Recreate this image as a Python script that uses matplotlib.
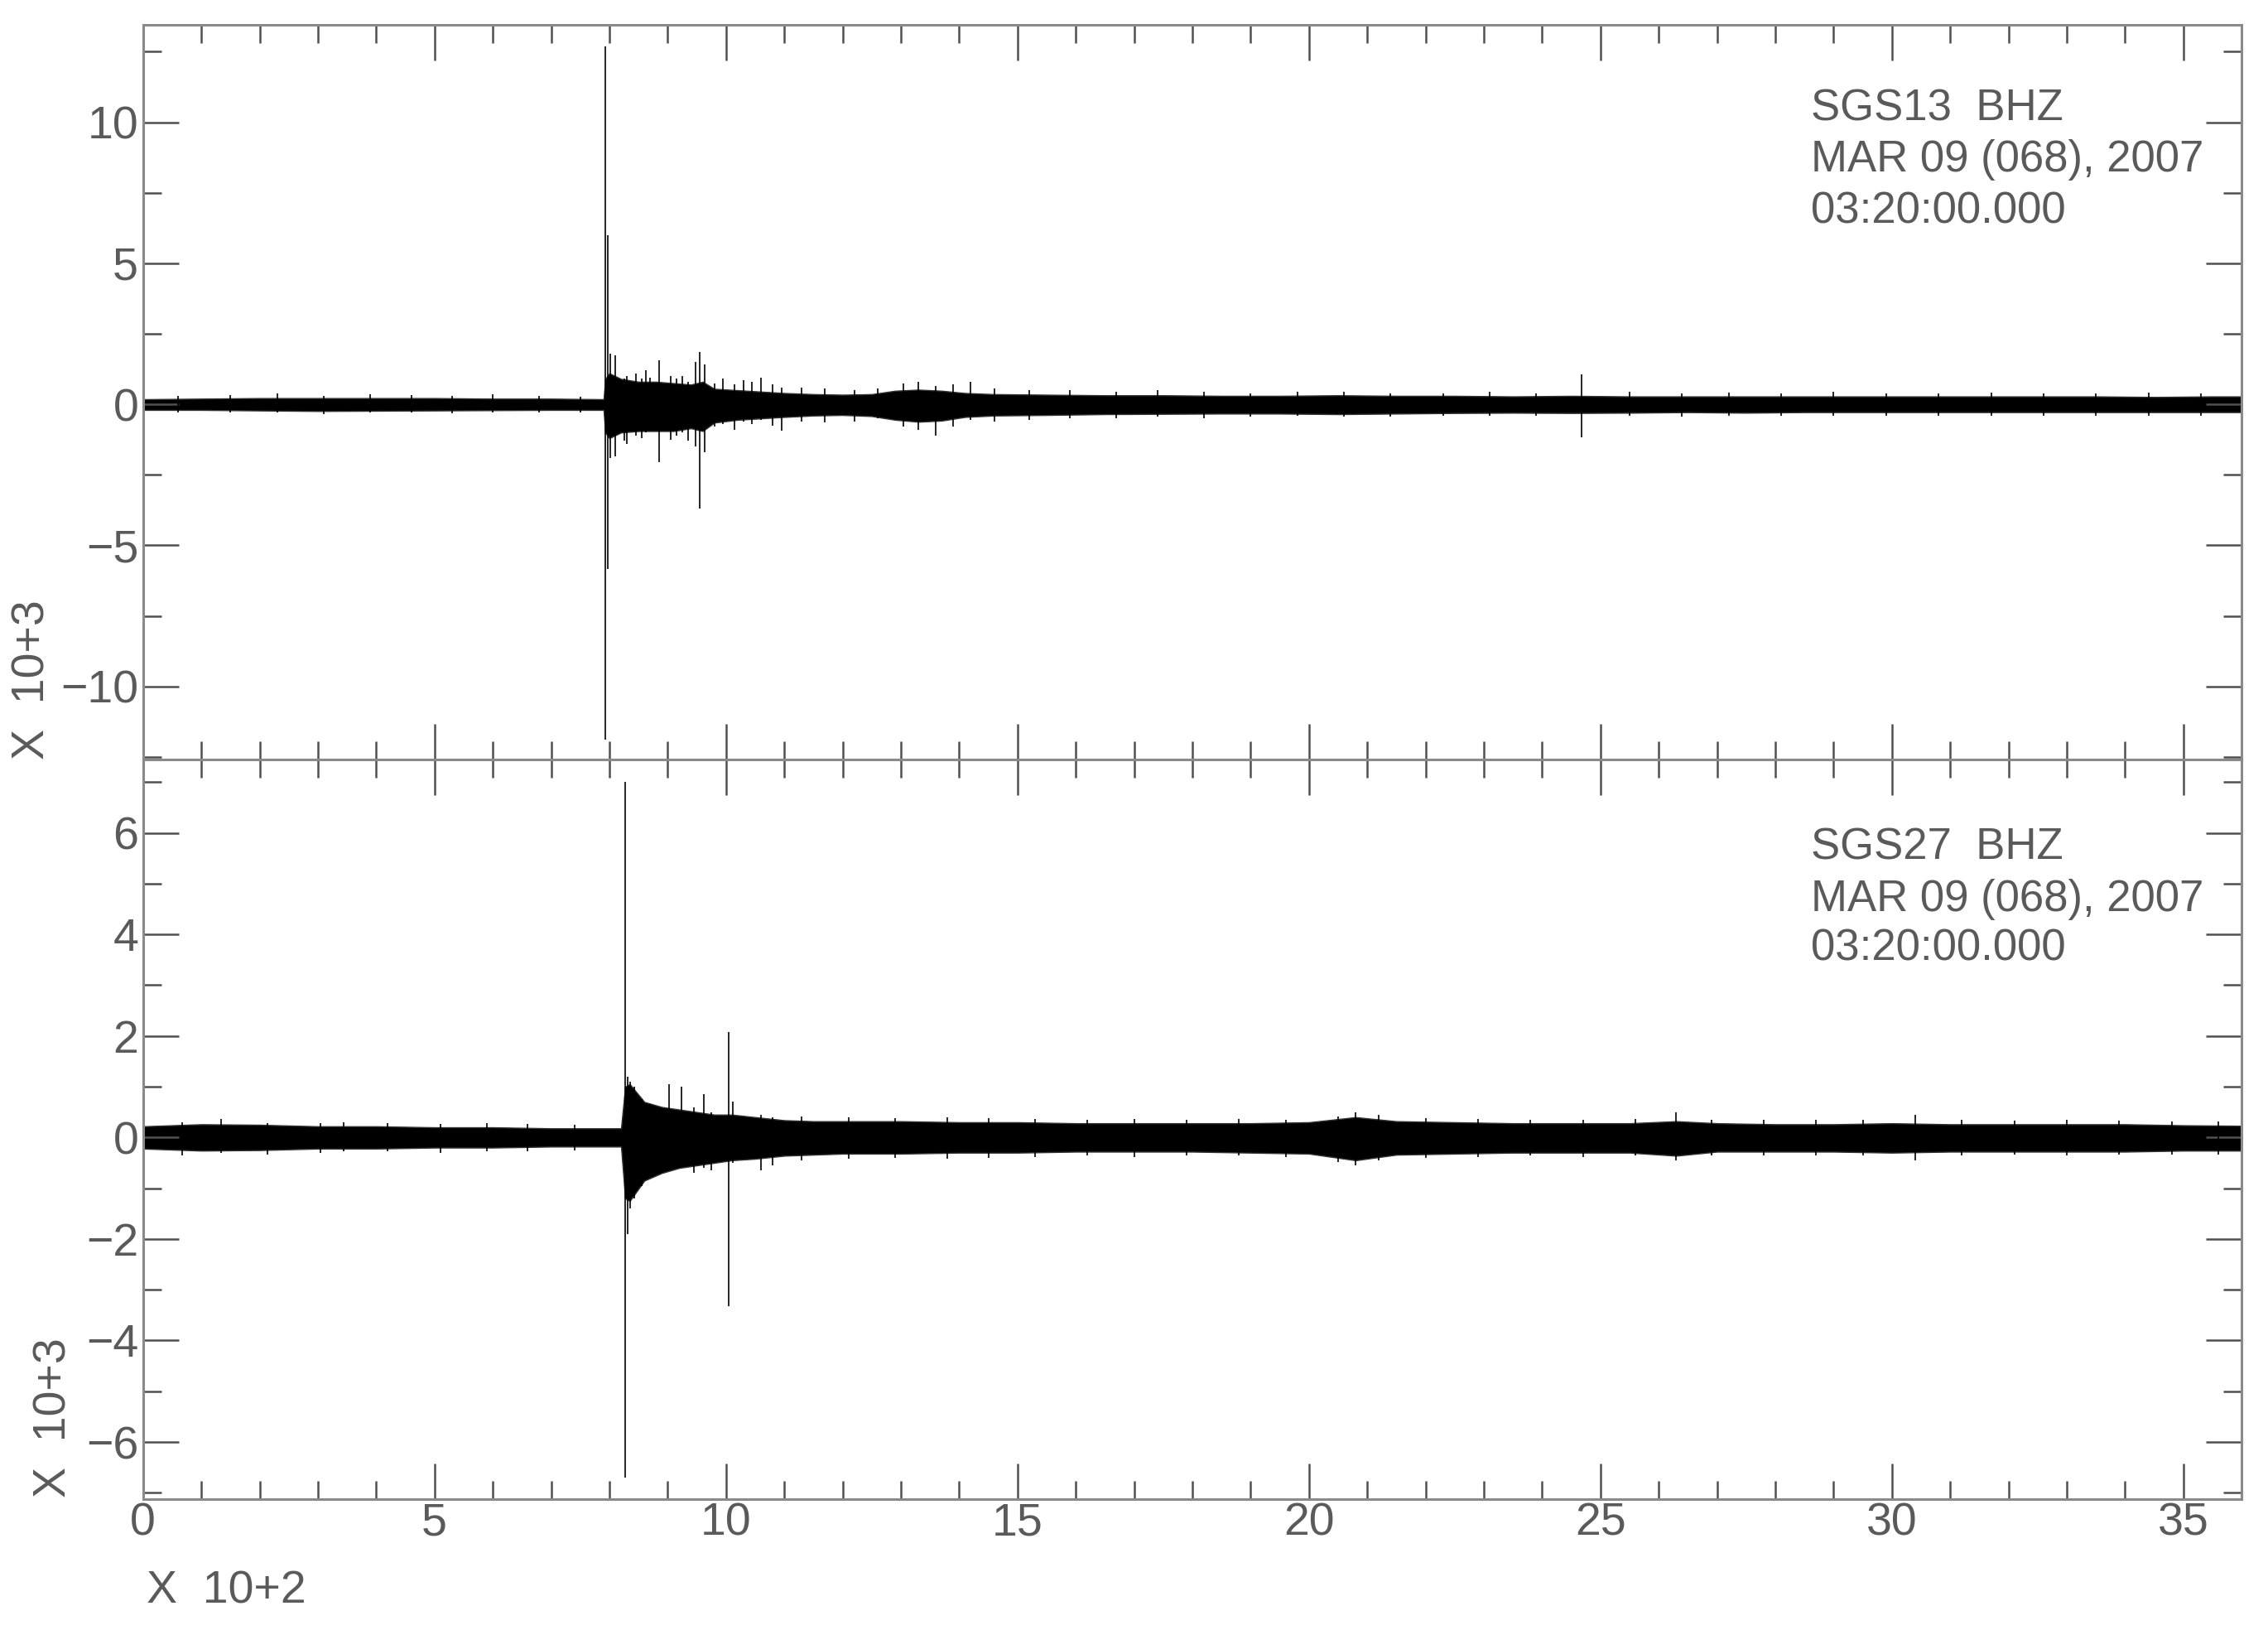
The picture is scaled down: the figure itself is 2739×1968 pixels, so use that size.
import numpy as np
import matplotlib
matplotlib.use("Agg")
import matplotlib.pyplot as plt
from matplotlib import font_manager
from matplotlib.ticker import MultipleLocator

# ---- data (time in x10^2 s, amplitude in x10^3 counts) ----
# panel 1: SGS13 BHZ, envelope of the trace
p1_t = [0.0, 1.0, 2.0, 3.0, 4.0, 5.0, 6.0, 7.0, 7.9, 7.93, 8.0, 8.2, 8.5, 8.8,
        9.1, 9.4, 9.6, 9.8, 10.2, 10.6, 11.0, 11.5, 12.0, 12.5, 12.9, 13.3,
        13.7, 14.1, 14.6, 15.5, 16.5, 17.5, 18.5, 19.5, 20.5, 21.5, 22.5, 23.5,
        24.5, 25.5, 26.5, 27.5, 28.5, 29.5, 30.5, 31.5, 32.5, 33.5, 34.5, 35.5, 36.0]
p1_hi = [0.18, 0.20, 0.22, 0.22, 0.22, 0.22, 0.20, 0.20, 0.18, 0.90, 1.10, 0.90,
         0.80, 0.80, 0.75, 0.70, 0.80, 0.55, 0.50, 0.45, 0.40, 0.36, 0.34, 0.36,
         0.48, 0.52, 0.48, 0.40, 0.36, 0.34, 0.32, 0.32, 0.30, 0.30, 0.32, 0.30,
         0.30, 0.28, 0.30, 0.28, 0.28, 0.28, 0.28, 0.28, 0.28, 0.28, 0.28, 0.28,
         0.26, 0.28, 0.28]
p1_lo = [-0.20, -0.20, -0.22, -0.24, -0.23, -0.22, -0.21, -0.20, -0.20, -1.00,
         -1.20, -1.00, -0.95, -0.95, -0.95, -0.85, -0.95, -0.65, -0.55, -0.50,
         -0.45, -0.40, -0.38, -0.42, -0.55, -0.62, -0.58, -0.45, -0.40, -0.38,
         -0.35, -0.34, -0.33, -0.33, -0.35, -0.33, -0.31, -0.30, -0.31, -0.30,
         -0.28, -0.30, -0.28, -0.28, -0.28, -0.28, -0.28, -0.28, -0.28, -0.28, -0.28]
# individual peaks: time, top, bottom
p1_spk_t = [7.93, 7.97, 8.02, 8.10, 8.25, 8.45, 8.62, 8.85, 9.05, 9.25, 9.48,
            9.55, 9.63, 9.95, 10.3, 10.6, 10.95, 13.05, 13.6, 14.2, 24.67,
            0.6, 1.5, 2.3, 3.1, 3.9, 4.6, 5.3, 6.0, 6.8, 7.5,
            8.3, 8.55, 8.7, 9.15, 9.35, 9.8, 10.15, 10.45, 10.8, 11.3, 11.7,
            12.2, 12.6, 13.3, 13.9, 14.6, 15.2, 15.9, 16.7, 17.4, 18.2, 19.0,
            19.8, 20.6, 21.4, 22.3, 23.1, 23.9, 25.5, 26.4, 27.2, 28.1, 29.0,
            29.9, 30.8, 31.7, 32.6, 33.5, 34.4, 35.3]
p1_spk_hi = [12.7, 6.0, 1.8, 1.75, 0.9, 1.1, 1.2, 1.55, 1.0, 1.0, 1.5,
             1.85, 1.4, 0.9, 0.85, 0.95, 0.6, 0.75, 0.65, 0.8, 1.07,
             0.30, 0.32, 0.38, 0.30, 0.35, 0.33, 0.30, 0.35, 0.30, 0.28,
             1.0, 0.9, 0.95, 0.9, 0.8, 0.75, 0.7, 0.8, 0.7, 0.6, 0.55,
             0.5, 0.55, 0.8, 0.7, 0.55, 0.5, 0.5, 0.45, 0.5, 0.45, 0.4,
             0.45, 0.45, 0.4, 0.4, 0.45, 0.4, 0.45, 0.4, 0.42, 0.4, 0.45,
             0.4, 0.4, 0.42, 0.4, 0.4, 0.42, 0.4]
p1_spk_lo = [-11.9, -5.85, -1.9, -1.85, -1.3, -1.1, -1.0, -2.05, -1.25, -1.0, -1.5,
             -3.7, -1.7, -0.7, -0.6, -0.55, -0.95, -0.8, -1.1, -0.55, -1.17,
             -0.30, -0.28, -0.30, -0.35, -0.30, -0.30, -0.32, -0.30, -0.30, -0.30,
             -1.4, -1.2, -0.9, -1.1, -1.3, -0.8, -0.9, -0.7, -0.75, -0.6, -0.65,
             -0.6, -0.5, -0.9, -0.8, -0.6, -0.55, -0.5, -0.5, -0.45, -0.5, -0.45,
             -0.4, -0.45, -0.45, -0.4, -0.4, -0.42, -0.4, -0.45, -0.4, -0.4, -0.4,
             -0.42, -0.4, -0.4, -0.4, -0.42, -0.4, -0.4]

# panel 2: SGS27 BHZ
p2_t = [0.0, 1.0, 2.0, 3.0, 4.0, 5.0, 6.0, 7.0, 8.2, 8.27, 8.35, 8.6, 8.9, 9.2,
        9.5, 9.8, 10.1, 10.5, 11.0, 11.5, 12.0, 13.0, 14.0, 15.0, 16.0, 17.0,
        18.0, 19.0, 20.0, 20.8, 21.5, 22.5, 23.5, 24.5, 25.5, 26.3, 27.0, 28.0,
        29.0, 30.0, 31.0, 32.0, 33.0, 34.0, 35.0, 36.0]
p2_hi = [0.22, 0.26, 0.25, 0.22, 0.22, 0.20, 0.20, 0.18, 0.18, 1.00, 1.05, 0.70,
         0.60, 0.55, 0.50, 0.45, 0.45, 0.40, 0.34, 0.32, 0.32, 0.32, 0.30, 0.30,
         0.28, 0.28, 0.28, 0.28, 0.30, 0.40, 0.32, 0.30, 0.28, 0.28, 0.28, 0.32,
         0.28, 0.26, 0.26, 0.28, 0.26, 0.26, 0.26, 0.26, 0.24, 0.23]
p2_lo = [-0.22, -0.26, -0.25, -0.22, -0.22, -0.20, -0.20, -0.18, -0.18, -1.20,
         -1.25, -0.85, -0.70, -0.60, -0.55, -0.50, -0.45, -0.42, -0.36, -0.34,
         -0.32, -0.32, -0.30, -0.30, -0.28, -0.28, -0.28, -0.30, -0.32, -0.45,
         -0.34, -0.32, -0.30, -0.30, -0.30, -0.36, -0.28, -0.28, -0.28, -0.30,
         -0.28, -0.28, -0.28, -0.28, -0.26, -0.26]
p2_spk_t = [8.27, 8.31, 8.36, 8.42, 8.55, 8.70, 9.02, 9.24, 9.45, 9.62, 9.75,
            10.05, 10.12, 10.6, 10.8, 20.8, 26.3, 30.4,
            0.67, 1.34, 2.14, 3.04, 3.44, 4.2, 5.1, 5.9, 6.6, 7.4,
            11.3, 12.1, 12.9, 13.8, 14.5, 15.3, 16.2, 17.0, 17.9, 18.8, 19.6,
            20.5, 21.2, 22.0, 22.9, 23.8, 24.7, 25.6, 26.9, 27.8, 28.7,
            29.5, 31.2, 32.1, 33.0, 33.9, 34.8, 35.6]
p2_spk_hi = [7.0, 1.2, 1.1, 1.0, 0.75, 0.65, 1.05, 1.0, 0.6, 0.85, 0.5,
             2.07, 0.7, 0.45, 0.4, 0.5, 0.5, 0.45,
             0.30, 0.37, 0.28, 0.28, 0.30, 0.28, 0.27, 0.28, 0.26, 0.25,
             0.42, 0.4, 0.38, 0.4, 0.38, 0.36, 0.35, 0.36, 0.35, 0.36, 0.34,
             0.42, 0.45, 0.38, 0.36, 0.35, 0.35, 0.36, 0.35, 0.34, 0.34,
             0.35, 0.34, 0.33, 0.34, 0.33, 0.32, 0.32]
p2_spk_lo = [-6.7, -1.9, -1.4, -1.2, -0.95, -0.8, -0.65, -0.55, -0.7, -0.6, -0.65,
             -3.33, -0.5, -0.65, -0.55, -0.55, -0.45, -0.45,
             -0.35, -0.30, -0.33, -0.30, -0.28, -0.28, -0.30, -0.27, -0.28, -0.26,
             -0.45, -0.42, -0.4, -0.42, -0.4, -0.38, -0.36, -0.38, -0.36, -0.36, -0.38,
             -0.48, -0.45, -0.4, -0.38, -0.36, -0.38, -0.36, -0.35, -0.36, -0.35,
             -0.36, -0.35, -0.34, -0.35, -0.34, -0.34, -0.33]

stations = ["SGS13  BHZ", "SGS27  BHZ"]
date_line = "MAR 09 (068), 2007"
time_line = "03:20:00.000"
x_ticks = [0, 5, 10, 15, 20, 25, 30, 35]
y_ticks = [[-10, -5, 0, 5, 10], [-6, -4, -2, 0, 2, 4, 6]]


def pick_font(names):
    for n in names:
        try:
            font_manager.findfont(font_manager.FontProperties(family=n),
                                  fallback_to_default=False)
            return n
        except ValueError:
            pass
    return "DejaVu Sans"


font = pick_font(["Liberation Sans Narrow", "DejaVu Sans Condensed", "Liberation Sans"])
narrow = "Narrow" in font or "Condensed" in font
fs_tick = 42 if narrow else 40
fs_note = 42 if narrow else 38
txt_col = "#5a5a5a"
plt.rcParams["font.family"] = [font, "DejaVu Sans"]

W, H = 2739, 1968
fig = plt.figure(figsize=(W / 100, H / 100), dpi=100)
fig.patch.set_facecolor("white")

left, right = 172.7 / W, 2707.3 / W
ax1 = fig.add_axes([left, 1 - 917.3 / H, right - left, (917.3 - 30) / H])
ax2 = fig.add_axes([left, 1 - 1809.7 / H, right - left, (1809.7 - 917.3) / H])

panels = [
    (ax1, p1_t, p1_hi, p1_lo, p1_spk_t, p1_spk_hi, p1_spk_lo, (-12.6, 13.45), 5, 2.5),
    (ax2, p2_t, p2_hi, p2_lo, p2_spk_t, p2_spk_hi, p2_spk_lo, (-7.12, 7.44), 2, 1),
]

for i, (ax, t, hi, lo, st, sh, sl, ylim, ymaj, ymin) in enumerate(panels):
    ax.fill_between(t, lo, hi, facecolor="black", lw=1.0, edgecolor="#333333")
    ax.vlines(st, sl, sh, color="black", lw=1.2)
    ax.set_xlim(0, 36)
    ax.set_ylim(*ylim)
    ax.xaxis.set_major_locator(MultipleLocator(5))
    ax.xaxis.set_minor_locator(MultipleLocator(1))
    ax.yaxis.set_minor_locator(MultipleLocator(ymin))
    ax.set_yticks(y_ticks[i])
    ax.set_yticklabels([("\u2212" + str(-v)) if v < 0 else str(v) for v in y_ticks[i]])
    ax.tick_params(which="both", direction="in", top=True, right=True,
                   color="#505050", width=1.8, labelsize=fs_tick, labelcolor=txt_col)
    ax.tick_params(which="major", length=31)
    ax.tick_params(which="minor", length=15.5)
    ax.tick_params(axis="y", pad=4)
    ax.tick_params(axis="x", pad=3)
    for sp in ax.spines.values():
        sp.set_color("#8a8a8a")
        sp.set_linewidth(2.2)

ax1.set_xticks(x_ticks)
ax1.tick_params(labelbottom=False)
ax2.set_xticks(x_ticks)
ax2.set_xticklabels([str(v) for v in x_ticks])

# station / date / time annotations (baselines in pixels from top)
note_x = 2187 / W
for i, base in enumerate([(145, 207, 270), (1037, 1100, 1160)]):
    for txt, y in zip([stations[i], date_line, time_line], base):
        fig.text(note_x, 1 - y / H, txt, fontsize=fs_note, color=txt_col, va="baseline")

# scale labels
fig.text(40 / W, 1 - 917 / H, "X  10+3", rotation=90, ha="center", va="bottom",
         fontsize=fs_tick, color=txt_col)
fig.text(66 / W, 1 - 1808 / H, "X  10+3", rotation=90, ha="center", va="bottom",
         fontsize=fs_tick, color=txt_col)
fig.text(177 / W, 1 - 1936 / H, "X  10+2", ha="left", va="baseline",
         fontsize=fs_tick, color=txt_col)

fig.savefig("out.png", dpi=100)
